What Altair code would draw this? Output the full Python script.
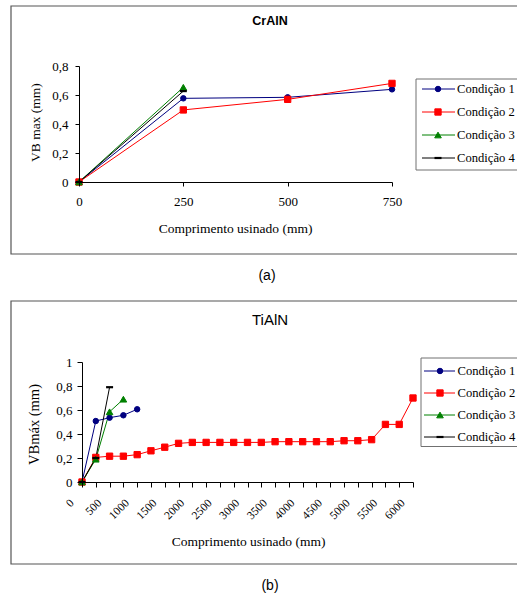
import altair as alt
import pandas as pd

SERIF = "Liberation Serif"
SANS = "Liberation Sans"

SERIES = ["Condição 1", "Condição 2", "Condição 3", "Condição 4"]
COLORS = ["#000080", "#FF0000", "#008000", "#000000"]
SHAPES = ["circle", "square", "triangle-up", "stroke"]
SIZES = [30, 40, 44, 49]
MARK_STROKE = [1, 1, 1, 2.2]

# ---------------- Panel (a): CrAlN ----------------
A_TITLE = "CrAlN"
A_X_TICKS = [0, 250, 500, 750]
A_Y_TICKS = [0, 0.2, 0.4, 0.6, 0.8]
A_C1_X = [0, 250, 500, 750]
A_C1_Y = [0.0, 0.577, 0.584, 0.639]
A_C2_X = [0, 250, 500, 750]
A_C2_Y = [0.0, 0.497, 0.570, 0.680]
A_C3_X = [0, 250]
A_C3_Y = [0.0, 0.653]
A_C4_X = [0, 250]
A_C4_Y = [0.0, 0.627]

# ---------------- Panel (b): TiAlN ----------------
B_TITLE = "TiAlN"
B_X_TICKS = [0, 250, 500, 750, 1000, 1250, 1500, 1750, 2000, 2250, 2500, 2750,
             3000, 3250, 3500, 3750, 4000, 4250, 4500, 4750, 5000, 5250, 5500,
             5750, 6000]
B_Y_TICKS = [0, 0.2, 0.4, 0.6, 0.8, 1]
B_C1_X = [0, 250, 500, 750, 1000]
B_C1_Y = [0.0, 0.508, 0.536, 0.556, 0.606]
B_C2_X = [0, 250, 500, 750, 1000, 1250, 1500, 1750, 2000, 2250, 2500, 2750,
          3000, 3250, 3500, 3750, 4000, 4250, 4500, 4750, 5000, 5250, 5500,
          5750, 6000]
B_C2_Y = [0.0, 0.205, 0.215, 0.215, 0.228, 0.26, 0.29, 0.322, 0.33, 0.33, 0.33,
          0.33, 0.33, 0.33, 0.336, 0.336, 0.336, 0.336, 0.336, 0.344, 0.344,
          0.353, 0.48, 0.48, 0.70]
B_C3_X = [0, 250, 500, 750]
B_C3_Y = [0.0, 0.19, 0.585, 0.69]
B_C4_X = [0, 250, 500]
B_C4_Y = [0.0, 0.2, 0.79]

X_TITLE = "Comprimento usinado (mm)"
A_Y_TITLE = "VB max (mm)"
B_Y_TITLE = "VBmáx (mm)"

W, H = 517, 597


def make_df(xs_list, ys_list):
    rows = []
    for s, xs, ys in zip(SERIES, xs_list, ys_list):
        for x, y in zip(xs, ys):
            rows.append({"series": s, "x": x, "y": y})
    return pd.DataFrame(rows)


color_scale = alt.Scale(domain=SERIES, range=COLORS)
ONE = pd.DataFrame({"k": [0]})
LEG = pd.DataFrame({"series": SERIES})
COMMA = "replace(format(datum.value, '~g'), '.', ',')"


def panel(df, xdom, xrng, ydom, yrng, xaxis, yaxis):
    x_enc = alt.X("x:Q", scale=alt.Scale(domain=xdom, range=xrng, nice=False, zero=False), axis=xaxis)
    y_enc = alt.Y("y:Q", scale=alt.Scale(domain=ydom, range=yrng, nice=False, zero=False), axis=yaxis)
    lines = alt.Chart(df).mark_line(strokeWidth=1).encode(
        x=x_enc, y=y_enc,
        color=alt.Color("series:N", scale=color_scale, legend=None),
        order="x:Q",
    )
    layers = [lines]
    for s, c, sh, sz, sw in zip(SERIES, COLORS, SHAPES, SIZES, MARK_STROKE):
        layers.append(
            alt.Chart(df).transform_filter(alt.datum.series == s).mark_point(
                shape=sh, size=sz, filled=True, fill=c, stroke=c, strokeWidth=sw, opacity=1
            ).encode(x=x_enc, y=y_enc)
        )
    return alt.layer(*layers)


def legend(ys, box, xl, xm, xt):
    y_enc = alt.Y("series:N", scale=alt.Scale(type="point", domain=SERIES, range=ys, padding=0), axis=None)
    frame = alt.Chart(ONE).mark_rect(fill="white", stroke="#707070", strokeWidth=1).encode(
        x=alt.value(box[0]), x2=alt.value(box[1]), y=alt.value(box[2]), y2=alt.value(box[3])
    )
    rule = alt.Chart(LEG).mark_rule(strokeWidth=1).encode(
        x=alt.value(xl[0]), x2=alt.value(xl[1]), y=y_enc,
        color=alt.Color("series:N", scale=color_scale, legend=None),
    )
    layers = [frame, rule]
    for s, c, sh, sz, sw in zip(SERIES, COLORS, SHAPES, SIZES, MARK_STROKE):
        layers.append(
            alt.Chart(LEG).transform_filter(alt.datum.series == s).mark_point(
                shape=sh, size=sz, filled=True, fill=c, stroke=c, strokeWidth=sw, opacity=1
            ).encode(x=alt.value(xm), y=y_enc)
        )
    layers.append(
        alt.Chart(LEG).mark_text(align="left", baseline="middle", font=SERIF, fontSize=12.6, color="black").encode(
            x=alt.value(xt), y=y_enc, text="series:N"
        )
    )
    return alt.layer(*layers)


def box(x0, x1, y0, y1):
    return alt.Chart(ONE).mark_rect(fillOpacity=0, stroke="#555555", strokeWidth=1.2).encode(
        x=alt.value(x0), x2=alt.value(x1), y=alt.value(y0), y2=alt.value(y1)
    )


def label(txt, x, y, font, size, weight="normal"):
    return alt.Chart(ONE).mark_text(
        align="center", baseline="middle", font=font, fontSize=size, fontWeight=weight, color="black"
    ).encode(x=alt.value(x), y=alt.value(y), text=alt.value(txt))


common_axis = dict(
    grid=False, domainColor="black", tickColor="black", labelColor="black", titleColor="black",
    labelFont=SERIF, titleFont=SERIF, titleFontWeight="normal", labelFlush=False,
    labelOverlap=False, titleAlign="center", titleBaseline="middle", zindex=1,
)

# Panel (a) axes
a_xaxis = alt.Axis(
    orient="bottom", offset=182 - H, values=A_X_TICKS, format="d", tickSize=4, labelPadding=9,
    labelFontSize=13, title=X_TITLE, titleFontSize=13.5, titleX=235, titleY=46, **common_axis
)
a_yaxis = alt.Axis(
    orient="left", offset=-79, values=A_Y_TICKS, labelExpr=COMMA, tickSize=4, labelPadding=7,
    labelFontSize=13, title=A_Y_TITLE, titleFontSize=13.5, titleX=-44, titleY=122, titleAngle=270,
    **common_axis
)
panel_a = panel(make_df([A_C1_X, A_C2_X, A_C3_X, A_C4_X], [A_C1_Y, A_C2_Y, A_C3_Y, A_C4_Y]),
                [0, 750], [79, 392], [0, 0.8], [182, 66], a_xaxis, a_yaxis)
legend_a = legend([89, 158], (416, 600, 79, 170), (422, 455), 438, 457)

# Panel (b) axes
b_xaxis = alt.Axis(
    orient="bottom", offset=482 - H, values=B_X_TICKS,
    labelExpr="datum.value % 500 == 0 ? format(datum.value, 'd') : ''",
    tickSize=5, labelPadding=14, labelOffset=-10, labelAngle=315, labelAlign="right",
    labelBaseline="middle", labelFontSize=11.5, title=X_TITLE, titleFontSize=13.5,
    titleX=248, titleY=59, **common_axis
)
b_yaxis = alt.Axis(
    orient="left", offset=-82, values=B_Y_TICKS, labelExpr=COMMA, tickSize=5, labelPadding=5,
    labelFontSize=13, title=B_Y_TITLE, titleFontSize=14.5, titleX=-48, titleY=424, titleAngle=270,
    **common_axis
)
panel_b = panel(make_df([B_C1_X, B_C2_X, B_C3_X, B_C4_X], [B_C1_Y, B_C2_Y, B_C3_Y, B_C4_Y]),
                [0, 6000], [82, 413], [0, 1], [482, 362], b_xaxis, b_yaxis)
legend_b = legend([371, 437], (421, 600, 358, 446.5), (424, 455), 440, 457.5)

chart = alt.layer(
    box(11, 600, 6, 254),
    box(11, 600, 301, 564),
    label(A_TITLE, 270, 21, SANS, 12.5, "bold"),
    label(B_TITLE, 270, 319.5, SANS, 15),
    label("(a)", 267, 275.5, SANS, 14),
    label("(b)", 270, 586, SANS, 14),
    panel_a, legend_a,
    panel_b, legend_b,
).resolve_scale(
    x="independent", y="independent"
).properties(
    width=W, height=H, padding=0, autosize=alt.AutoSizeParams(type="none")
).configure_view(stroke=None)

chart.save("out.html", embed_options={"renderer": "svg", "actions": False})
